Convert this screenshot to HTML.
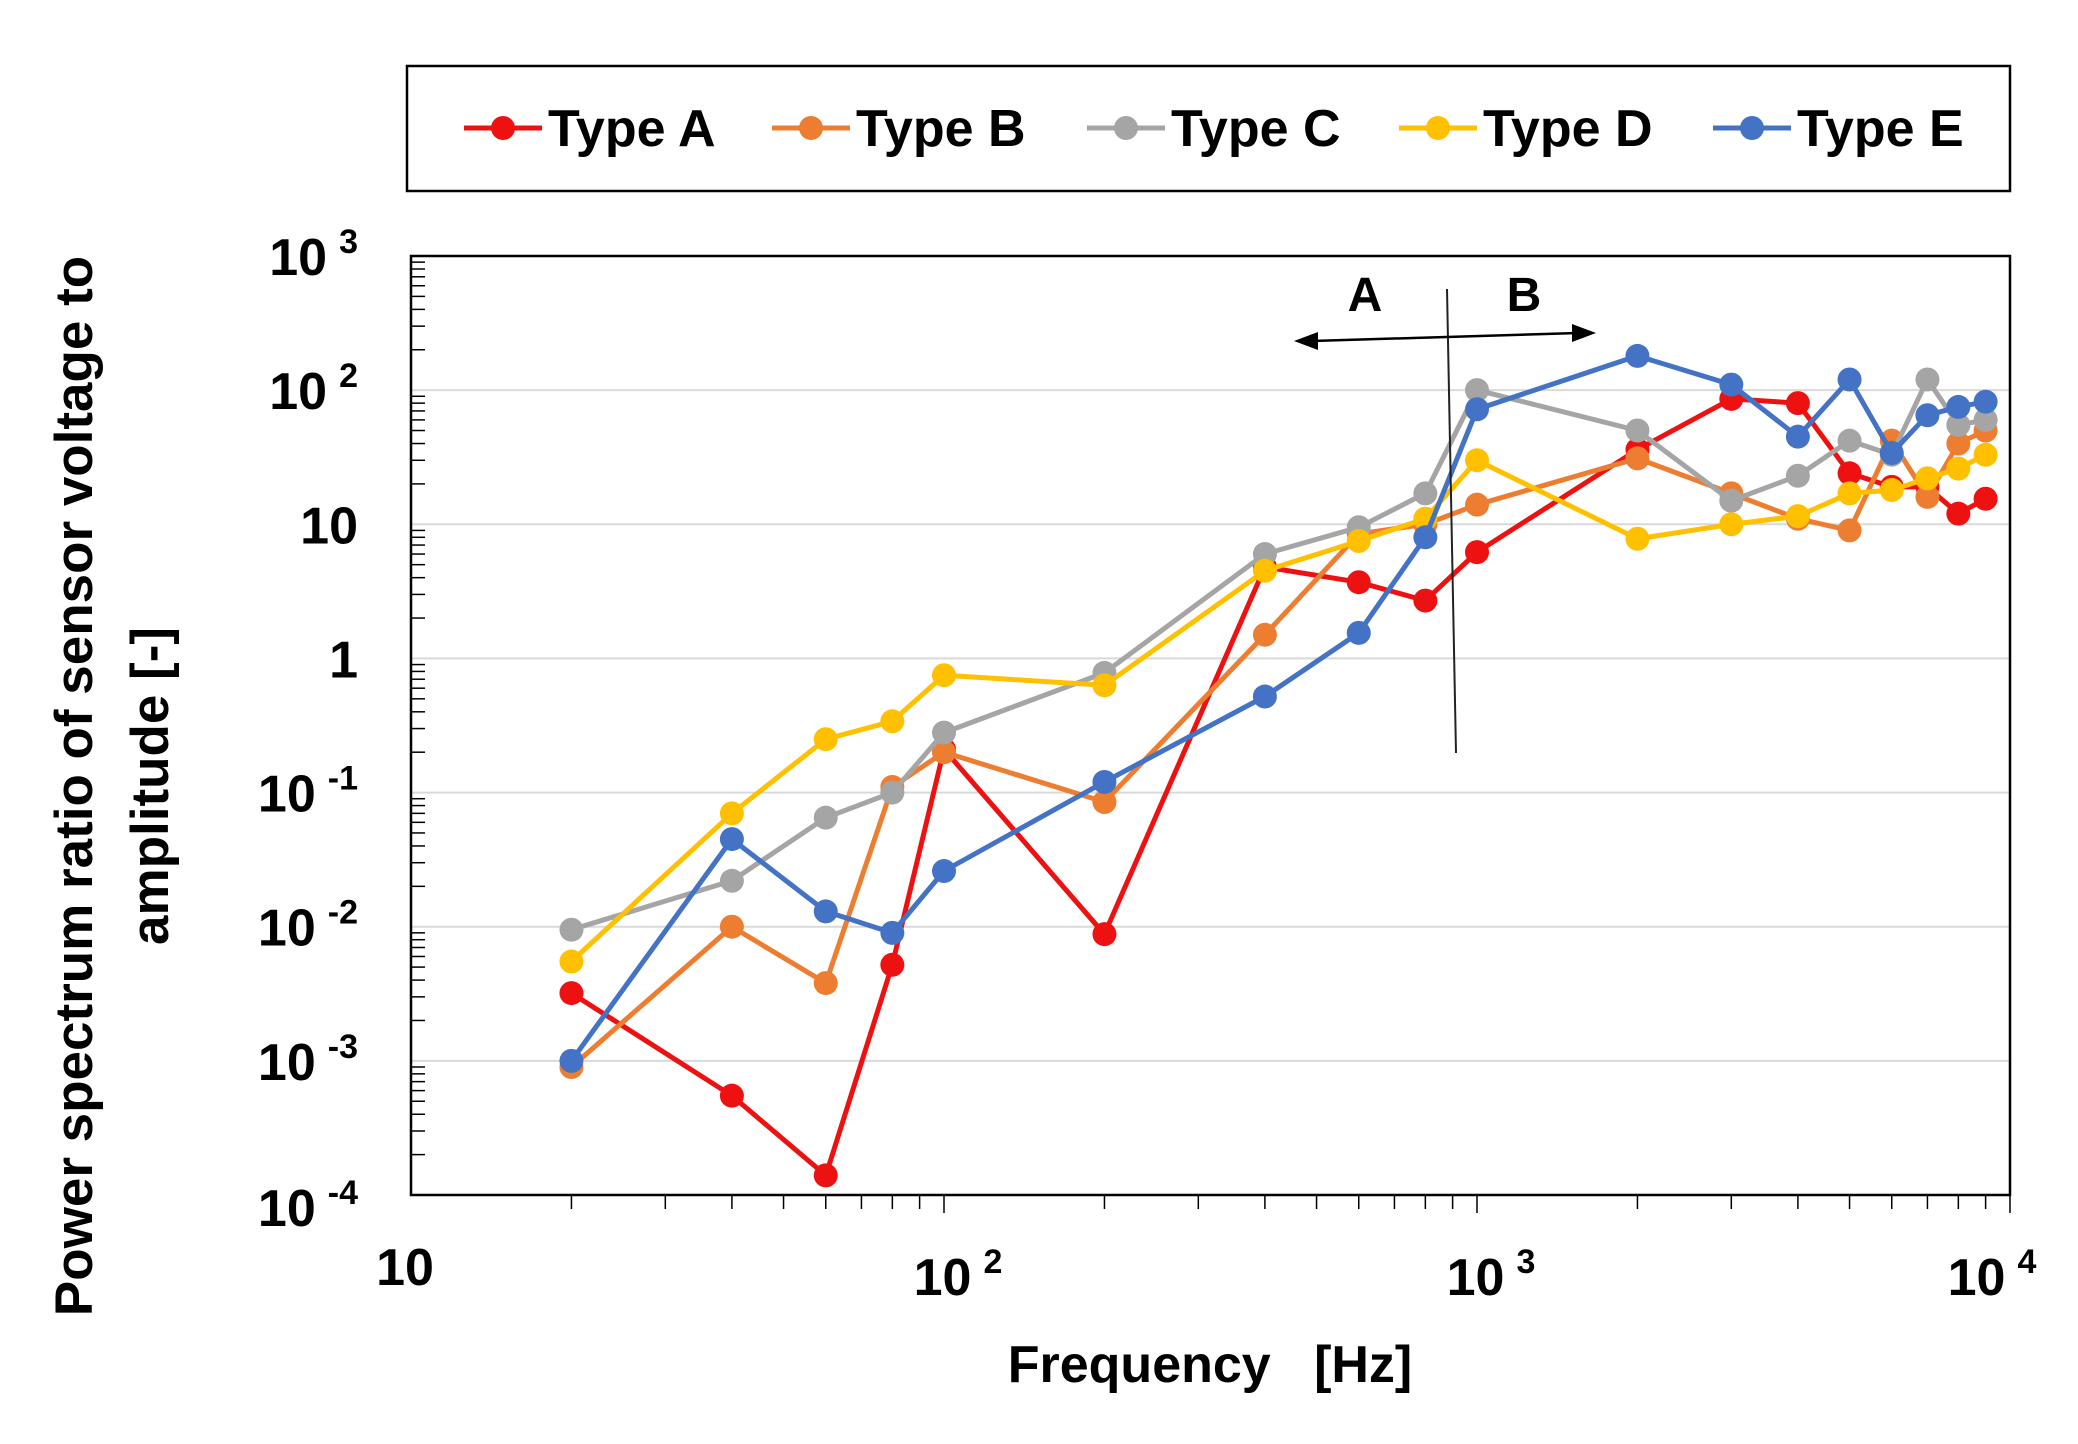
<!DOCTYPE html>
<html><head><meta charset="utf-8"><style>
html,body{margin:0;padding:0;background:#fff;}
svg{display:block;font-family:"Liberation Sans",sans-serif;font-weight:bold;}
</style></head><body>
<svg id="chart" width="2078" height="1444" viewBox="0 0 2078 1444" xmlns="http://www.w3.org/2000/svg">
<rect x="0" y="0" width="2078" height="1444" fill="#fff"/>
<g id="legend">
<rect x="407" y="66" width="1603" height="125" fill="#fff" stroke="#000" stroke-width="2.5"/>
</g>
<g id="grid"></g>
<g id="axes"></g>
<g id="series"></g>
<g id="annot">
<line x1="1447" y1="289" x2="1456" y2="753" stroke="#222" stroke-width="2"/>
<line x1="1312" y1="341" x2="1578" y2="333" stroke="#000" stroke-width="2.5"/>
<polygon points="1294,341 1318,332 1318,350" fill="#000"/>
<polygon points="1596,333 1572,324 1572,342" fill="#000"/>
<text x="1365" y="311" font-size="48" text-anchor="middle">A</text>
<text x="1524" y="311" font-size="48" text-anchor="middle">B</text>
</g>
<text x="1210" y="1382" font-size="52" text-anchor="middle" xml:space="preserve">Frequency   [Hz]</text>
<g transform="translate(92,786) rotate(-90)">
<text x="0" y="0" font-size="53" text-anchor="middle">Power spectrum ratio of sensor voltage to</text>
<text x="0" y="76" font-size="53" text-anchor="middle">amplitude [-]</text>
</g>
</svg>
<script>
const freqs = [20,40,60,80,100,200,400,600,800,1000,2000,3000,4000,5000,6000,7000,8000,9000];
const typeA = [0.0032,0.00055,0.00014,0.0052,0.21,0.0088,4.8,3.7,2.7,6.2,36,86,80,24,19,19,12,15.5];
const typeB = [0.0009,0.01,0.0038,0.11,0.2,0.085,1.5,8.5,10,14,31,17,11,9,42,16,40,50];
const typeC = [0.0095,0.022,0.065,0.1,0.28,0.78,6,9.5,17,100,50,15,23,42,33,120,55,60];
const typeD = [0.0055,0.07,0.25,0.34,0.75,0.63,4.5,7.5,11,30,7.8,10,11.5,17,18,22,26,33];
const typeE = [0.001,0.045,0.013,0.009,0.026,0.12,0.52,1.55,8,72,180,110,45,120,34,65,75,82];
const seriesNames = ["Type A","Type B","Type C","Type D","Type E"];
const seriesColors = ["#ee1111","#ed7d31","#a5a5a5","#ffc000","#4472c4"];
const yTickExps = [3,2,1,0,-1,-2,-3,-4];
const xTickExps = [1,2,3,4];

const L=411,R=2010,T=256,B=1195;
const X=v=>L+(Math.log10(v)-1)/3*(R-L);
const Y=v=>T+(3-Math.log10(v))/7*(B-T);
const NS="http://www.w3.org/2000/svg";
function mk(tag,attrs,parent){const e=document.createElementNS(NS,tag);for(const k in attrs)e.setAttribute(k,attrs[k]);parent.appendChild(e);return e;}
const grid=document.getElementById('grid'),axes=document.getElementById('axes'),ser=document.getElementById('series'),leg=document.getElementById('legend');

yTickExps.forEach(e=>{
  const y=Y(Math.pow(10,e));
  if(e<3&&e>-4){const g=mk('line',{x1:L,x2:R,y1:y,y2:y,stroke:'#d9d9d9','stroke-width':2},grid);
  
  }
  const t=mk('text',{x:358,y:y+19+(e===-4?12:0),'font-size':52,'text-anchor':'end'},axes);
  
  
  if(e===1){t.textContent='10';}
  else if(e===0){t.textContent='1';}
  else{t.textContent='10';const s=mk('tspan',{'font-size':34,dy:-22,dx:12},t);s.textContent=String(e);}
  if(e>-4){for(let m=2;m<=9;m++){const yy=Y(m*Math.pow(10,e-1));const tk=mk('line',{x1:L,x2:L+14,y1:yy,y2:yy,stroke:'#000','stroke-width':1.5},axes);
  
  }}
});
xTickExps.forEach(e=>{
  const x=X(Math.pow(10,e));
  const t=mk('text',{x:e===1?x-6:(e===4?x-18:x+14),y:e===1?1285:1295,'font-size':52,'text-anchor':'middle'},axes);
  
  
  t.textContent='10';
  if(e>1){const s=mk('tspan',{'font-size':34,dy:-22,dx:12},t);s.textContent=String(e);}
  if(e<4){for(let m=2;m<=10;m++){const xx=X(m*Math.pow(10,e));const tk=mk('line',{x1:xx,x2:xx,y1:B,y2:B+(m===10?18:14),stroke:'#000','stroke-width':1.5},axes);
  
  }}
});
const frame=mk('rect',{x:L,y:T,width:R-L,height:B-T,fill:'none',stroke:'#000','stroke-width':2.5},axes);



const allData=[typeA,typeB,typeC,typeD,typeE];
allData.forEach((d,i)=>{
  const g=mk('g',{},ser);
  
  
  const pts=d.map((v,j)=>X(freqs[j]).toFixed(1)+','+Y(v).toFixed(1)).join(' ');
  const pl=mk('polyline',{points:pts,fill:'none',stroke:seriesColors[i],'stroke-width':5,'stroke-linejoin':'round'},g);
  
  
  d.forEach((v,j)=>{const c=mk('circle',{cx:X(freqs[j]),cy:Y(v),r:12,fill:seriesColors[i]},g);
  
  });
  const lx=[464,772,1087,1399,1713][i];
  const le=mk('g',{},leg);
  
  
  mk('line',{x1:lx,x2:lx+78,y1:128,y2:128,stroke:seriesColors[i],'stroke-width':5},le);
  mk('circle',{cx:lx+39,cy:128,r:12,fill:seriesColors[i]},le);
  const lt=mk('text',{x:lx+84,y:146,'font-size':52},le);
  lt.textContent=seriesNames[i];
});
</script>
</body></html>
